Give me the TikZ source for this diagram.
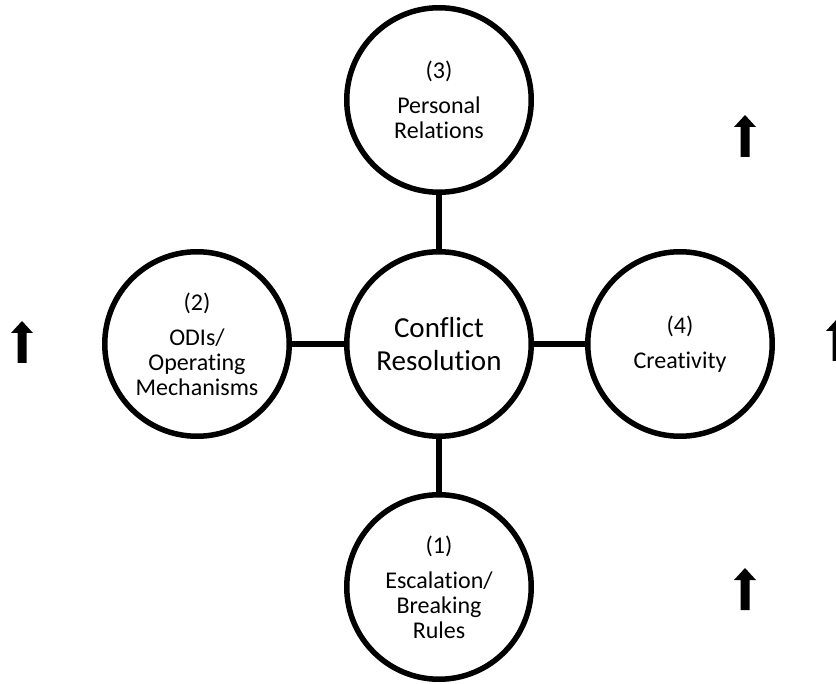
\documentclass[tikz,border=0pt]{standalone}
\usepackage{fontspec}
\setmainfont{Carlito}[Ligatures={NoCommon}]
\begin{document}
\begin{tikzpicture}[x=1pt,y=-1pt,
  topic/.style={circle, draw, line width=5.5pt, minimum size=184.5pt,
    inner sep=0pt, align=center, font=\fontsize{24}{25}\selectfont},
  hub/.style={topic, font=\fontsize{29}{33}\selectfont},
  link/.style={line width=5.5pt},
  uparrow/.pic={\fill[black] (0,0) -- (11,12) -- (4.5,12) -- (4.5,42)
    -- (-4.5,42) -- (-4.5,12) -- (-11,12) -- cycle;}]
\useasboundingbox (0,0) rectangle (836,684);
\clip (0,0) rectangle (836,684);

% hub and the four surrounding factors
\node[hub]   (cr) at (439,344) {Conflict\\Resolution};
\node[topic] (pr) at (439,100) {(3)\\[10pt]Personal\\Relations};
\node[topic] (od) at (197,344) {(2)\\[10pt]ODIs/\\Operating\\Mechanisms};
\node[topic] (cv) at (680,344) {(4)\\[10pt]Creativity};
\node[topic] (es) at (439,587) {(1)\\[10pt]Escalation/\\Breaking\\Rules};

% spokes
\draw[link] (cr) -- (pr);
\draw[link] (cr) -- (od);
\draw[link] (cr) -- (cv);
\draw[link] (cr) -- (es);

% upward trend markers
\pic at (22,321) {uparrow};
\pic at (837,319) {uparrow};
\pic at (745,115) {uparrow};
\pic at (745,568) {uparrow};
\end{tikzpicture}
\end{document}
